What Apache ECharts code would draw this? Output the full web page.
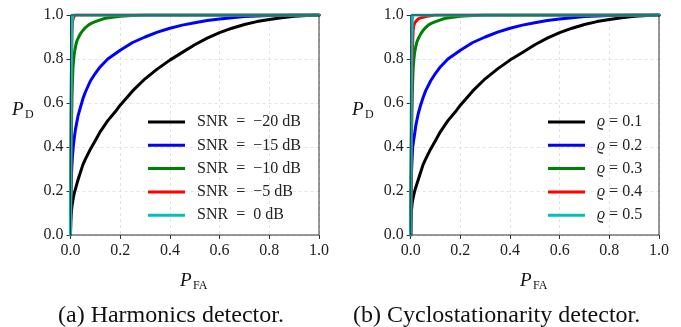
<!DOCTYPE html>
<html><head><meta charset="utf-8">
<script src="https://cdn.jsdelivr.net/npm/echarts@6/dist/echarts.min.js"></script>
<style>html,body{margin:0;padding:0;background:#fff}#c{width:681px;height:327px}</style>
</head><body><div id="c"></div>
<script>
// ---- data ----
const tickValues = [0, 0.2, 0.4, 0.6, 0.8, 1.0];
const leftNames = ['SNR = −20 dB', 'SNR = −15 dB', 'SNR = −10 dB', 'SNR = −5 dB', 'SNR = 0 dB'];
const rightNames = ['ϱ = 0.1', 'ϱ = 0.2', 'ϱ = 0.3', 'ϱ = 0.4', 'ϱ = 0.5'];
const colors = ['#000000', '#0000ff', '#008000', '#ff0000', '#00bfbf'];

// (a) Harmonics detector
const aPfa1 = [0, 0.001, 0.003, 0.006, 0.01, 0.015, 0.02, 0.03, 0.04, 0.05, 0.06, 0.08, 0.1, 0.12, 0.15, 0.18, 0.2, 0.25, 0.3, 0.35, 0.4, 0.45, 0.5, 0.55, 0.6, 0.65, 0.7, 0.75, 0.8, 0.85, 0.9, 0.95, 1.0];
const aPd1  = [0, 0.06, 0.1, 0.13, 0.16, 0.19, 0.21, 0.25, 0.285, 0.32, 0.345, 0.39, 0.43, 0.47, 0.52, 0.56, 0.59, 0.655, 0.71, 0.755, 0.795, 0.83, 0.865, 0.895, 0.92, 0.94, 0.957, 0.97, 0.98, 0.988, 0.994, 0.998, 1.0];
const aPfa2 = [0, 0.001, 0.003, 0.005, 0.008, 0.011, 0.015, 0.02, 0.03, 0.04, 0.05, 0.06, 0.08, 0.1, 0.12, 0.15, 0.2, 0.25, 0.3, 0.35, 0.4, 0.45, 0.5, 0.55, 0.6, 0.7, 0.8, 0.9, 1.0];
const aPd2  = [0, 0.15, 0.25, 0.3, 0.36, 0.4, 0.44, 0.48, 0.54, 0.58, 0.62, 0.65, 0.7, 0.735, 0.765, 0.8, 0.84, 0.875, 0.9, 0.922, 0.94, 0.954, 0.965, 0.975, 0.982, 0.993, 0.998, 1.0, 1.0];
const aPfa3 = [0, 0.002, 0.004, 0.006, 0.008, 0.01, 0.013, 0.016, 0.02, 0.025, 0.033, 0.04, 0.05, 0.06, 0.073, 0.085, 0.1, 0.12, 0.14, 0.17, 0.2, 0.25, 0.3, 1.0];
const aPd3  = [0, 0.3, 0.5, 0.62, 0.7, 0.76, 0.8, 0.83, 0.855, 0.88, 0.9, 0.915, 0.93, 0.943, 0.955, 0.963, 0.97, 0.978, 0.985, 0.99, 0.994, 0.998, 1.0, 1.0];
const aPfa4 = [0, 0.002, 0.004, 0.006, 0.008, 0.012, 0.02, 1.0];
const aPd4  = [0, 0.45, 0.75, 0.92, 0.97, 0.99, 1.0, 1.0];
const aPfa5 = [0, 0.002, 0.004, 0.006, 0.008, 1.0];
const aPd5  = [0, 0.55, 0.85, 0.97, 1.0, 1.0];

// (b) Cyclostationarity detector
const bPfa1 = [0, 0.001, 0.003, 0.006, 0.01, 0.015, 0.02, 0.03, 0.04, 0.05, 0.06, 0.08, 0.1, 0.12, 0.15, 0.18, 0.2, 0.25, 0.3, 0.35, 0.4, 0.45, 0.5, 0.55, 0.6, 0.65, 0.7, 0.75, 0.8, 0.85, 0.9, 0.95, 1.0];
const bPd1  = [0, 0.07, 0.11, 0.145, 0.17, 0.195, 0.215, 0.25, 0.285, 0.32, 0.345, 0.39, 0.43, 0.47, 0.52, 0.56, 0.59, 0.655, 0.71, 0.755, 0.795, 0.83, 0.865, 0.895, 0.92, 0.94, 0.957, 0.97, 0.98, 0.988, 0.994, 0.998, 1.0];
const bPfa2 = [0, 0.001, 0.003, 0.005, 0.008, 0.012, 0.016, 0.021, 0.03, 0.04, 0.05, 0.06, 0.08, 0.1, 0.12, 0.15, 0.2, 0.25, 0.3, 0.35, 0.4, 0.45, 0.5, 0.55, 0.6, 0.7, 0.8, 0.9, 1.0];
const bPd2  = [0, 0.17, 0.28, 0.33, 0.4, 0.43, 0.46, 0.5, 0.55, 0.59, 0.625, 0.655, 0.7, 0.735, 0.765, 0.8, 0.84, 0.875, 0.9, 0.922, 0.94, 0.954, 0.965, 0.975, 0.982, 0.993, 0.998, 1.0, 1.0];
const bPfa3 = [0, 0.002, 0.004, 0.006, 0.008, 0.01, 0.013, 0.016, 0.02, 0.025, 0.032, 0.04, 0.05, 0.06, 0.072, 0.085, 0.1, 0.12, 0.14, 0.17, 0.2, 0.25, 0.3, 1.0];
const bPd3  = [0, 0.3, 0.5, 0.62, 0.7, 0.76, 0.8, 0.83, 0.855, 0.878, 0.896, 0.913, 0.93, 0.943, 0.955, 0.963, 0.97, 0.978, 0.985, 0.99, 0.994, 0.998, 1.0, 1.0];
const bPfa4 = [0, 0.002, 0.004, 0.006, 0.008, 0.01, 0.012, 0.015, 0.02, 0.025, 0.03, 0.04, 0.05, 0.06, 0.072, 0.085, 0.1, 1.0];
const bPd4  = [0, 0.35, 0.6, 0.78, 0.88, 0.93, 0.95, 0.96, 0.97, 0.977, 0.982, 0.987, 0.99, 0.993, 0.995, 0.998, 1.0, 1.0];
const bPfa5 = [0, 0.002, 0.004, 0.006, 0.008, 1.0];
const bPd5  = [0, 0.55, 0.85, 0.97, 1.0, 1.0];

// ---- chart ----
const SERIF = '"Liberation Serif", "DejaVu Serif", serif';
const zip = (xs, ys) => xs.map((x, i) => [x, ys[i]]);
const leftSets = [[aPfa1, aPd1], [aPfa2, aPd2], [aPfa3, aPd3], [aPfa4, aPd4], [aPfa5, aPd5]];
const rightSets = [[bPfa1, bPd1], [bPfa2, bPd2], [bPfa3, bPd3], [bPfa4, bPd4], [bPfa5, bPd5]];

function axisCommon(isX) {
  return {
    type: 'value', min: 0, max: 1, interval: 0.2,
    axisLine: { show: false },
    axisTick: { show: true, length: 4, lineStyle: { color: '#333', width: 1 } },
    axisLabel: {
      show: true, margin: isX ? 8 : 7, color: '#222', fontFamily: SERIF, fontSize: 16,
      formatter: v => v.toFixed(1)
    },
    splitLine: { show: true, lineStyle: { color: '#dcdcdc', type: [3, 3], width: 0.8 } }
  };
}

const grids = [
  { left: 70.5, top: 15, width: 248.5, height: 220 },
  { left: 410.7, top: 15, width: 248.3, height: 220 }
].map(g => Object.assign(g, { show: true, borderColor: '#333', borderWidth: 1, backgroundColor: 'transparent', z: 5 }));

const series = [];
function addSeries(sets, names, axisIdx) {
  sets.forEach((s, i) => series.push({
    name: names[i], type: 'line', xAxisIndex: axisIdx, yAxisIndex: axisIdx, data: zip(s[0], s[1]),
    showSymbol: false, smooth: false, lineStyle: { color: colors[i], width: 3, join: 'round', cap: 'round' },
    itemStyle: { color: colors[i] }, animation: false, clip: true
  }));
}
addSeries(leftSets, leftNames, 0);
addSeries(rightSets, rightNames, 1);

function legend(names, left, rich) {
  return {
    data: names.map(n => ({ name: n, icon: 'rect' })),
    orient: 'vertical', left: left, top: 109, itemWidth: 37, itemHeight: 3, itemGap: 7.3,
    textStyle: { fontFamily: SERIF, fontSize: 16, color: '#222', lineHeight: 16, padding: [0, 0, 0, 7], rich: rich },
    formatter: rich ? (n => '{i|ϱ}' + n.slice(1)) : (n => n.replace(' = ', '\u2002=\u2002')),
    selectedMode: false
  };
}

function sub(x, y, main, subtxt) {
  return [
    { type: 'text', left: x, top: y, style: { text: main, font: 'italic 19px ' + SERIF, fill: '#111' } },
    { type: 'text', left: x + 13, top: y + 9, style: { text: subtxt, font: '12px ' + SERIF, fill: '#111' } }
  ];
}

const option = {
  animation: false,
  grid: grids,
  xAxis: [Object.assign(axisCommon(true), { gridIndex: 0 }), Object.assign(axisCommon(true), { gridIndex: 1 })],
  yAxis: [Object.assign(axisCommon(false), { gridIndex: 0 }), Object.assign(axisCommon(false), { gridIndex: 1 })],
  legend: [
    legend(leftNames, 143, null),
    legend(rightNames, 543, { i: { fontFamily: SERIF, fontStyle: 'italic', fontSize: 16, color: '#222' } })
  ],
  series: series,
  graphic: [].concat(
    sub(12, 100, 'P', 'D'),
    sub(352, 100, 'P', 'D'),
    sub(180, 271, 'P', 'FA'),
    sub(520, 271, 'P', 'FA'),
    [
      { type: 'text', left: 58, top: 304, style: { text: '(a) Harmonics detector.', font: '24px ' + SERIF, fill: '#111' } },
      { type: 'text', left: 353, top: 304, style: { text: '(b) Cyclostationarity detector.', font: '24px ' + SERIF, fill: '#111' } }
    ]
  )
};

const chart = echarts.init(document.getElementById('c'), null, { renderer: 'canvas' });
chart.setOption(option);
</script>
</body></html>
